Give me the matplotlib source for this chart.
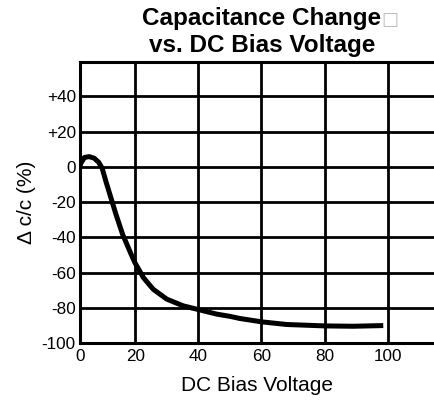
import matplotlib.pyplot as plt

# values
voltage = [2.5, 2.8, 3.9, 5.4, 7.0, 8.4, 9.5, 10.7, 12.3, 13.9, 16.0, 18.7, 19.9,
           22.6, 25.7, 30.0, 35.2, 39.5, 45.8, 50.1, 53.2, 60.1, 68, 80.1, 89.1, 98.6]
cap_change = [0.5, 2.1, 5.3, 5.8, 4.9, 2.6, -0.7, -8.2, -17.6, -27, -38.3, -49.6, -54.4,
              -62.9, -69.5, -75.1, -78.9, -80.8, -83.6, -84.9, -86.1, -88, -89.5, -90.3, -90.5, -90.1]

x_ticks = [2.5, 20, 40, 60, 80, 100]
x_labels = ['0', '20', '40', '60', '80', '100']
y_ticks = [-100, -80, -60, -40, -20, 0, 20, 40]
y_labels = ['-100', '-80', '-60', '-40', '-20', '0', '+20', '+40']

plt.rcParams['font.family'] = ['Liberation Sans', 'DejaVu Sans']

fig = plt.figure(figsize=(4.35, 4.0), dpi=100)
ax = fig.add_axes([80 / 435, 1 - 343 / 400, 355 / 435, (343 - 62) / 400])

ax.plot(voltage, cap_change, color='black', linewidth=3.6,
        solid_capstyle='butt', solid_joinstyle='round', zorder=3)

ax.set_xlim(2.5, 115)
ax.set_ylim(-100, 59.5)
ax.set_xticks(x_ticks)
ax.set_xticklabels(x_labels)
ax.set_yticks(y_ticks)
ax.set_yticklabels(y_labels)
ax.tick_params(length=0, labelsize=12.3, colors='black')
ax.tick_params(axis='x', pad=4)
ax.tick_params(axis='y', pad=3)

ax.grid(True, color='black', linewidth=2)
for side in ['left', 'bottom', 'top']:
    ax.spines[side].set_linewidth(2.2)
ax.spines['right'].set_visible(False)

ax.set_xlabel('DC Bias Voltage', fontsize=15, labelpad=9)
ax.set_ylabel('\u0394 c/c (%)', fontsize=15, labelpad=4)

fig.text(262 / 435, 1 - 25 / 400, 'Capacitance Change', fontsize=17.5,
         fontweight='bold', ha='center', va='baseline')
fig.text(262 / 435, 1 - 52 / 400, 'vs. DC Bias Voltage', fontsize=17.5,
         fontweight='bold', ha='center', va='baseline')
fig.text(381 / 435, 1 - 25 / 400, '\u25a1', fontsize=13, color='#bbbbbb',
         family='DejaVu Sans', ha='left', va='baseline')

fig.savefig('out.png', dpi=100)
